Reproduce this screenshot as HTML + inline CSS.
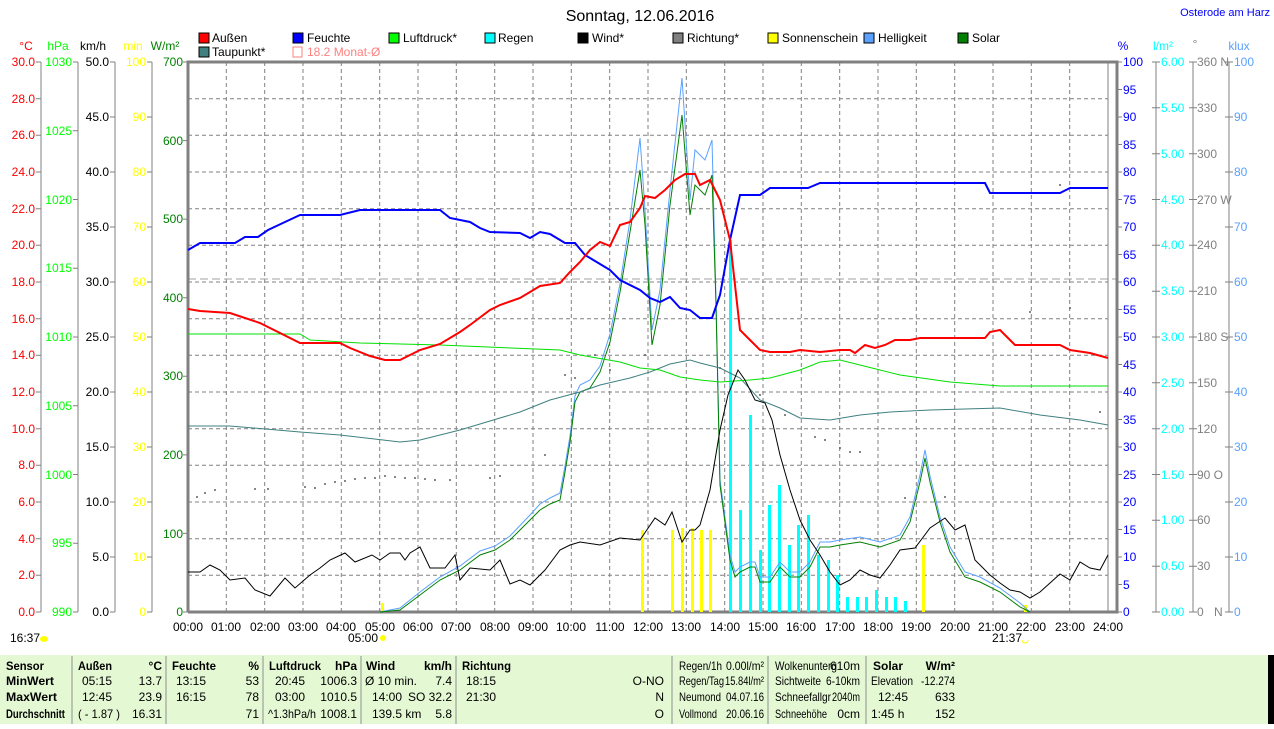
<!DOCTYPE html>
<html><head><meta charset="utf-8"><style>
body{margin:0;background:#fff;width:1274px;height:724px;overflow:hidden;font-family:"Liberation Sans",sans-serif}
svg text{font-family:"Liberation Sans",sans-serif;font-size:12px}
</style></head><body>
<svg width="1274" height="724" xmlns="http://www.w3.org/2000/svg">
<text x="640" y="21" text-anchor="middle" style="font-size:16px">Sonntag, 12.06.2016</text>
<text x="1270" y="16" text-anchor="end" fill="#0000ff" style="font-size:11px">Osterode am Harz</text>
<g style="font-size:11px">
<rect x="199" y="33" width="10" height="10" fill="#f00" stroke="#000"/><text x="212" y="42">Außen</text>
<rect x="293" y="33" width="10" height="10" fill="#00f" stroke="#000"/><text x="307" y="42">Feuchte</text>
<rect x="389" y="33" width="10" height="10" fill="#0f0" stroke="#000"/><text x="403" y="42">Luftdruck*</text>
<rect x="485" y="33" width="10" height="10" fill="#0ff" stroke="#000"/><text x="498" y="42">Regen</text>
<rect x="578" y="33" width="10" height="10" fill="#000" stroke="#000"/><text x="592" y="42">Wind*</text>
<rect x="673" y="33" width="10" height="10" fill="#808080" stroke="#000"/><text x="687" y="42">Richtung*</text>
<rect x="768" y="33" width="10" height="10" fill="#ff0" stroke="#000"/><text x="782" y="42" textLength="76" lengthAdjust="spacingAndGlyphs">Sonnenschein</text>
<rect x="864" y="33" width="10" height="10" fill="#5aa0ff" stroke="#000"/><text x="878" y="42">Helligkeit</text>
<rect x="958" y="33" width="10" height="10" fill="#008000" stroke="#000"/><text x="972" y="42">Solar</text>
<rect x="199" y="47" width="10" height="10" fill="#408080" stroke="#000"/><text x="212" y="56">Taupunkt*</text>
<rect x="293" y="47" width="9" height="10" fill="none" stroke="#ff8080"/><text x="307" y="56" fill="#ff8080">18.2 Monat-Ø</text>
</g>
<g style="font-size:11px">
<text x="26" y="50" text-anchor="middle" fill="#f00">°C</text>
<text x="58" y="50" text-anchor="middle" fill="#0f0">hPa</text>
<text x="93" y="50" text-anchor="middle">km/h</text>
<text x="133" y="50" text-anchor="middle" fill="#ff0">min</text>
<text x="165" y="50" text-anchor="middle" fill="#008000">W/m²</text>
<text x="1123" y="50" text-anchor="middle" fill="#00f">%</text>
<text x="1163" y="50" text-anchor="middle" fill="#0ff">l/m²</text>
<text x="1195" y="48" text-anchor="middle" fill="#808080">°</text>
<text x="1239" y="50" text-anchor="middle" fill="#5aa0ff">klux</text>
</g>
<g stroke="#808080" stroke-dasharray="4,3" stroke-width="1">
<path d="M188 98.7H1108M188 135.3H1108M188 172H1108M188 208.7H1108M188 245.3H1108M188 282H1108M188 318.7H1108M188 355.3H1108M188 392H1108M188 428.7H1108M188 465.3H1108M188 502H1108M188 538.7H1108M188 575.3H1108"/>
<path d="M226.3 62V612M264.7 62V612M303 62V612M341.3 62V612M379.7 62V612M418 62V612M456.3 62V612M494.7 62V612M533 62V612M571.3 62V612M609.7 62V612M648 62V612M686.3 62V612M724.7 62V612M763 62V612M801.3 62V612M839.7 62V612M878 62V612M916.3 62V612M954.7 62V612M993 62V612M1031.3 62V612M1069.7 62V612"/>
</g>
<line x1="188" y1="279" x2="1117" y2="279" stroke="#a0a0a0" stroke-dasharray="8,4"/>
<g stroke="#808080" fill="none">
<path d="M41 62V612M78 62V612M115 62V612M152 62V612"/>
<path d="M1156 62V612M1193 62V612M1229 62V612"/>
<path d="M1108 62V612"/>
</g>
<path d="M188 612V62H1117V612H188" stroke="#808080" stroke-width="3" fill="none"/>
<g text-anchor="end" fill="#f00">
<text x="35" y="66">30.0</text><text x="35" y="103">28.0</text><text x="35" y="139">26.0</text><text x="35" y="176">24.0</text><text x="35" y="213">22.0</text><text x="35" y="249">20.0</text><text x="35" y="286">18.0</text><text x="35" y="323">16.0</text><text x="35" y="359">14.0</text><text x="35" y="396">12.0</text><text x="35" y="433">10.0</text><text x="35" y="469">8.0</text><text x="35" y="506">6.0</text><text x="35" y="543">4.0</text><text x="35" y="579">2.0</text><text x="35" y="616">0.0</text>
</g>
<g stroke="#808080"><path d="M36 62h5M36 98.7h5M36 135.3h5M36 172h5M36 208.7h5M36 245.3h5M36 282h5M36 318.7h5M36 355.3h5M36 392h5M36 428.7h5M36 465.3h5M36 502h5M36 538.7h5M36 575.3h5M36 612h5"/>
<path d="M73 62h5M73 130.75h5M73 199.5h5M73 268.25h5M73 337h5M73 405.75h5M73 474.5h5M73 543.25h5M73 612h5"/>
<path d="M110 62h5M110 117h5M110 172h5M110 227h5M110 282h5M110 337h5M110 392h5M110 447h5M110 502h5M110 557h5M110 612h5"/>
<path d="M147 62h5M147 117h5M147 172h5M147 227h5M147 282h5M147 337h5M147 392h5M147 447h5M147 502h5M147 557h5M147 612h5"/>
<path d="M183 62h5M183 140.6h5M183 219.1h5M183 297.7h5M183 376.3h5M183 454.9h5M183 533.4h5M183 612h5"/>
</g>
<g text-anchor="end" fill="#0f0">
<text x="72" y="66">1030</text><text x="72" y="135">1025</text><text x="72" y="204">1020</text><text x="72" y="272">1015</text><text x="72" y="341">1010</text><text x="72" y="410">1005</text><text x="72" y="479">1000</text><text x="72" y="547">995</text><text x="72" y="616">990</text>
</g>
<g text-anchor="end">
<text x="109" y="66">50.0</text><text x="109" y="121">45.0</text><text x="109" y="176">40.0</text><text x="109" y="231">35.0</text><text x="109" y="286">30.0</text><text x="109" y="341">25.0</text><text x="109" y="396">20.0</text><text x="109" y="451">15.0</text><text x="109" y="506">10.0</text><text x="109" y="561">5.0</text><text x="109" y="616">0.0</text>
</g>
<g text-anchor="end" fill="#ff0">
<text x="146" y="66">100</text><text x="146" y="121">90</text><text x="146" y="176">80</text><text x="146" y="231">70</text><text x="146" y="286">60</text><text x="146" y="341">50</text><text x="146" y="396">40</text><text x="146" y="451">30</text><text x="146" y="506">20</text><text x="146" y="561">10</text><text x="146" y="616">0</text>
</g>
<g text-anchor="end" fill="#008000">
<text x="183" y="66">700</text><text x="183" y="145">600</text><text x="183" y="223">500</text><text x="183" y="302">400</text><text x="183" y="380">300</text><text x="183" y="459">200</text><text x="183" y="538">100</text><text x="183" y="616">0</text>
</g>
<g stroke="#808080"><path d="M1117 62h5M1117 89.5h5M1117 117h5M1117 144.5h5M1117 172h5M1117 199.5h5M1117 227h5M1117 254.5h5M1117 282h5M1117 309.5h5M1117 337h5M1117 364.5h5M1117 392h5M1117 419.5h5M1117 447h5M1117 474.5h5M1117 502h5M1117 529.5h5M1117 557h5M1117 584.5h5M1117 612h5"/>
<path d="M1152 62h8M1152 107.8h8M1152 153.7h8M1152 199.5h8M1152 245.3h8M1152 291.2h8M1152 337h8M1152 382.8h8M1152 428.7h8M1152 474.5h8M1152 520.3h8M1152 566.2h8M1152 612h8"/>
<path d="M1189 62h8M1189 107.8h8M1189 153.7h8M1189 199.5h8M1189 245.3h8M1189 291.2h8M1189 337h8M1189 382.8h8M1189 428.7h8M1189 474.5h8M1189 520.3h8M1189 566.2h8M1189 612h8"/>
<path d="M1225 62h8M1225 117h8M1225 172h8M1225 227h8M1225 282h8M1225 337h8M1225 392h8M1225 447h8M1225 502h8M1225 557h8M1225 612h8"/>
</g>
<g fill="#00f">
<text x="1123" y="66">100</text><text x="1123" y="94">95</text><text x="1123" y="121">90</text><text x="1123" y="149">85</text><text x="1123" y="176">80</text><text x="1123" y="204">75</text><text x="1123" y="231">70</text><text x="1123" y="259">65</text><text x="1123" y="286">60</text><text x="1123" y="314">55</text><text x="1123" y="341">50</text><text x="1123" y="369">45</text><text x="1123" y="396">40</text><text x="1123" y="424">35</text><text x="1123" y="451">30</text><text x="1123" y="479">25</text><text x="1123" y="506">20</text><text x="1123" y="534">15</text><text x="1123" y="561">10</text><text x="1123" y="589">5</text><text x="1123" y="616">0</text>
</g>
<g fill="#0ff">
<text x="1161" y="66">6.00</text><text x="1161" y="112">5.50</text><text x="1161" y="158">5.00</text><text x="1161" y="204">4.50</text><text x="1161" y="249">4.00</text><text x="1161" y="295">3.50</text><text x="1161" y="341">3.00</text><text x="1161" y="387">2.50</text><text x="1161" y="433">2.00</text><text x="1161" y="479">1.50</text><text x="1161" y="524">1.00</text><text x="1161" y="570">0.50</text><text x="1161" y="616">0.00</text>
</g>
<g fill="#808080">
<text x="1197" y="66">360 N</text><text x="1197" y="112">330</text><text x="1197" y="158">300</text><text x="1197" y="204">270 W</text><text x="1197" y="249">240</text><text x="1197" y="295">210</text><text x="1197" y="341">180 S</text><text x="1197" y="387">150</text><text x="1197" y="433">120</text><text x="1197" y="479">90 O</text><text x="1197" y="524">60</text><text x="1197" y="570">30</text><text x="1197" y="616">0</text><text x="1214" y="616">N</text>
</g>
<g fill="#5aa0ff">
<text x="1234" y="66">100</text><text x="1234" y="121">90</text><text x="1234" y="176">80</text><text x="1234" y="231">70</text><text x="1234" y="286">60</text><text x="1234" y="341">50</text><text x="1234" y="396">40</text><text x="1234" y="451">30</text><text x="1234" y="506">20</text><text x="1234" y="561">10</text><text x="1234" y="616">0</text>
</g>
<g text-anchor="middle">
<text x="188" y="631">00:00</text><text x="226" y="631">01:00</text><text x="265" y="631">02:00</text><text x="303" y="631">03:00</text><text x="341" y="631">04:00</text><text x="380" y="631">05:00</text><text x="418" y="631">06:00</text><text x="456" y="631">07:00</text><text x="495" y="631">08:00</text><text x="533" y="631">09:00</text><text x="571" y="631">10:00</text><text x="610" y="631">11:00</text><text x="648" y="631">12:00</text><text x="686" y="631">13:00</text><text x="725" y="631">14:00</text><text x="763" y="631">15:00</text><text x="801" y="631">16:00</text><text x="840" y="631">17:00</text><text x="878" y="631">18:00</text><text x="916" y="631">19:00</text><text x="955" y="631">20:00</text><text x="993" y="631">21:00</text><text x="1031" y="631">22:00</text><text x="1070" y="631">23:00</text><text x="1108" y="631">24:00</text>
</g>
<text x="10" y="642">16:37</text><ellipse cx="44" cy="639" rx="4" ry="3" fill="#ff0"/>
<text x="348" y="642">05:00</text><circle cx="383" cy="638" r="3" fill="#ff0"/>
<text x="992" y="642">21:37</text><path d="M1022 640a3 3 0 0 0 6 0" fill="none" stroke="#ff0"/>
<g fill="#0ff">
<rect x="729" y="240" width="3" height="372"/><rect x="739" y="510" width="3" height="102"/><rect x="749" y="415" width="3" height="197"/><rect x="759" y="550" width="3" height="62"/><rect x="768" y="505" width="3" height="107"/><rect x="778" y="485" width="3" height="127"/><rect x="788" y="545" width="3" height="67"/><rect x="797" y="525" width="3" height="87"/><rect x="807" y="515" width="3" height="97"/><rect x="817" y="555" width="3" height="57"/><rect x="827" y="560" width="3" height="52"/><rect x="836" y="575" width="3" height="37"/><rect x="846" y="597" width="3" height="15"/><rect x="856" y="597" width="3" height="15"/><rect x="865" y="597" width="3" height="15"/><rect x="875" y="590" width="3" height="22"/><rect x="885" y="597" width="3" height="15"/><rect x="894" y="597" width="3" height="15"/><rect x="904" y="601" width="3" height="11"/>
</g>
<g fill="#ff0">
<rect x="641" y="530" width="3" height="82"/><rect x="671" y="530" width="3" height="82"/><rect x="681" y="528" width="3" height="84"/><rect x="691" y="528" width="3" height="84"/><rect x="700" y="530" width="3" height="82"/><rect x="709" y="530" width="3" height="82"/><rect x="922" y="545" width="3" height="67"/><rect x="381" y="603" width="3" height="9"/><rect x="1024" y="605" width="3" height="7"/>
</g>
<g fill="#606060">
<circle cx="197" cy="497" r="1"/><circle cx="205" cy="493" r="1"/><circle cx="215" cy="490" r="1"/><circle cx="255" cy="489" r="1"/><circle cx="268" cy="489" r="1"/><circle cx="305" cy="487" r="1"/><circle cx="315" cy="488" r="1"/><circle cx="325" cy="484" r="1"/><circle cx="335" cy="482" r="1"/><circle cx="345" cy="481" r="1"/><circle cx="355" cy="479" r="1"/><circle cx="365" cy="478" r="1"/><circle cx="375" cy="478" r="1"/><circle cx="385" cy="476" r="1"/><circle cx="395" cy="477" r="1"/><circle cx="405" cy="478" r="1"/><circle cx="415" cy="478" r="1"/><circle cx="425" cy="479" r="1"/><circle cx="435" cy="480" r="1"/><circle cx="450" cy="480" r="1"/><circle cx="490" cy="478" r="1"/><circle cx="500" cy="476" r="1"/><circle cx="545" cy="455" r="1"/><circle cx="565" cy="375" r="1"/><circle cx="575" cy="378" r="1"/><circle cx="595" cy="355" r="1"/><circle cx="610" cy="370" r="1"/><circle cx="645" cy="355" r="1"/><circle cx="720" cy="368" r="1"/><circle cx="760" cy="395" r="1"/><circle cx="785" cy="415" r="1"/><circle cx="815" cy="437" r="1"/><circle cx="825" cy="440" r="1"/><circle cx="840" cy="448" r="1"/><circle cx="850" cy="452" r="1"/><circle cx="860" cy="452" r="1"/><circle cx="905" cy="498" r="1"/><circle cx="945" cy="497" r="1"/><circle cx="1030" cy="312" r="1"/><circle cx="1060" cy="185" r="1"/><circle cx="1070" cy="308" r="1"/><circle cx="1100" cy="412" r="1"/>
</g>
<polyline fill="none" stroke="#5aa0ff" stroke-width="1" points="380,612 400,608 420,592 440,577 460,566 480,551 495,546 510,536 530,515 540,504 550,498 560,493 565,466 570,436 575,396 580,385 590,380 600,366 610,334 620,284 630,220 640,138 645,210 652,330 660,290 670,190 682,78 690,200 695,150 705,160 712,140 716,300 720,480 730,555 735,572 740,567 750,562 755,562 760,577 770,577 780,562 790,572 800,572 810,562 820,542 830,542 840,540 860,537 880,542 900,535 910,517 920,475 925,450 930,476 940,517 950,547 965,572 980,577 1000,588 1020,603 1030,612"/>
<polyline fill="none" stroke="#008000" stroke-width="1" points="380,612 400,610 420,595 440,580 460,570 480,555 495,550 510,540 530,520 540,510 550,504 560,500 565,472 570,442 575,402 580,392 590,388 600,372 610,342 620,292 630,232 640,170 645,225 652,345 660,305 670,205 682,115 690,215 695,185 705,195 712,175 716,305 720,485 730,560 735,577 740,572 750,567 755,567 760,582 770,582 780,567 790,577 800,577 810,567 820,547 830,547 840,545 860,542 880,547 900,540 910,522 920,482 925,458 930,482 940,522 950,552 965,577 980,582 1000,592 1020,607 1030,612"/>
<polyline fill="none" stroke="#408080" points="188,426 230,426 300,432 340,435 400,442 420,440 460,430 480,424 520,412 550,400 580,392 600,385 630,378 650,372 670,364 690,360 700,363 720,368 740,378 760,400 780,408 800,418 830,420 860,415 890,412 930,410 1000,408 1040,415 1080,420 1108,425"/>
<polyline fill="none" stroke="#00e000" points="188,334 300,334 310,340 360,343 440,345 560,350 580,355 620,362 640,368 660,370 680,377 700,380 720,382 750,380 770,378 800,370 820,362 840,360 860,365 900,375 950,382 1000,386 1108,386"/>
<polyline fill="none" stroke="#000" points="188,572 200,572 210,565 220,570 230,580 245,578 255,590 270,596 285,578 295,588 310,575 320,568 330,560 345,553 355,562 360,560 372,555 380,560 390,553 400,553 405,560 410,553 420,547 430,568 445,568 455,555 460,580 470,568 490,570 500,560 510,584 520,580 530,585 545,570 560,550 570,545 580,542 600,545 620,538 640,540 655,518 665,525 672,512 682,542 690,530 695,530 700,525 710,490 720,430 728,395 738,370 745,380 755,400 765,403 772,420 780,455 790,490 800,520 810,540 820,555 830,572 840,585 850,580 860,570 870,575 880,578 890,565 900,550 915,548 930,528 945,518 955,530 965,525 975,560 990,575 1000,583 1010,590 1020,592 1030,598 1040,592 1050,583 1060,574 1070,580 1080,562 1090,568 1100,570 1108,555"/>
<polyline fill="none" stroke="#0000ff" stroke-width="2" points="188,250 200,243 235,243 245,237 258,237 268,230 285,222 300,215 340,215 360,210 440,210 450,218 470,222 480,228 490,232 520,233 530,238 540,232 550,234 565,243 575,243 585,255 600,264 610,270 620,280 640,290 650,298 660,302 670,297 680,308 690,310 700,318 712,318 720,295 730,240 740,195 760,195 770,188 808,188 820,183 985,183 990,193 1060,193 1070,188 1108,188"/>
<polyline fill="none" stroke="#ff0000" stroke-width="2" points="188,309 200,311 230,313 260,323 290,338 300,343 340,343 350,348 370,356 385,360 400,360 420,350 440,344 460,332 470,325 490,310 500,305 520,298 530,292 540,286 560,283 570,272 580,262 590,250 600,242 610,246 620,225 630,222 640,208 645,196 655,198 665,190 675,180 685,174 695,174 700,185 710,180 720,200 730,240 740,330 750,340 760,350 770,352 790,352 800,350 820,352 840,350 850,350 855,353 865,345 875,348 885,345 895,340 910,340 920,338 985,338 990,332 1000,330 1005,335 1015,345 1060,345 1070,350 1090,353 1108,358"/>
<rect x="0" y="655" width="1274" height="69" fill="#e4f8d4"/>
<rect x="1268" y="655" width="6" height="69" fill="#000"/>
<g stroke="#909090"><path d="M72 656V724M166 656V724M263 656V724M361 656V724M456 656V724M672 656V724M768 656V724M866 656V724"/></g>
<g style="font-size:11px">
<g font-weight="bold"><text x="6" y="670" textLength="38" lengthAdjust="spacingAndGlyphs">Sensor</text><text x="6" y="685" textLength="48" lengthAdjust="spacingAndGlyphs">MinWert</text><text x="6" y="701" textLength="51" lengthAdjust="spacingAndGlyphs">MaxWert</text><text x="6" y="718" textLength="59" lengthAdjust="spacingAndGlyphs">Durchschnitt</text>
<text x="78" y="670" textLength="34" lengthAdjust="spacingAndGlyphs">Außen</text><text x="162" y="670" text-anchor="end">°C</text>
<text x="172" y="670" textLength="44" lengthAdjust="spacingAndGlyphs">Feuchte</text><text x="259" y="670" text-anchor="end">%</text>
<text x="269" y="670" textLength="52" lengthAdjust="spacingAndGlyphs">Luftdruck</text><text x="357" y="670" text-anchor="end">hPa</text>
<text x="366" y="670">Wind</text><text x="452" y="670" text-anchor="end">km/h</text>
<text x="462" y="670" textLength="49" lengthAdjust="spacingAndGlyphs">Richtung</text>
<text x="873" y="670">Solar</text><text x="955" y="670" text-anchor="end">W/m²</text></g>
<text x="82" y="685">05:15</text><text x="162" y="685" text-anchor="end">13.7</text>
<text x="82" y="701">12:45</text><text x="162" y="701" text-anchor="end">23.9</text>
<text x="78" y="718" textLength="42" lengthAdjust="spacingAndGlyphs">( - 1.87 )</text><text x="162" y="718" text-anchor="end">16.31</text>
<text x="176" y="685">13:15</text><text x="259" y="685" text-anchor="end">53</text>
<text x="176" y="701">16:15</text><text x="259" y="701" text-anchor="end">78</text>
<text x="259" y="718" text-anchor="end">71</text>
<text x="275" y="685">20:45</text><text x="357" y="685" text-anchor="end">1006.3</text>
<text x="275" y="701">03:00</text><text x="357" y="701" text-anchor="end">1010.5</text>
<text x="268" y="718" textLength="48" lengthAdjust="spacingAndGlyphs">^1.3hPa/h</text><text x="357" y="718" text-anchor="end">1008.1</text>
<text x="365" y="685">Ø 10 min.</text><text x="452" y="685" text-anchor="end">7.4</text>
<text x="372" y="701">14:00</text><text x="452" y="701" text-anchor="end">SO 32.2</text>
<text x="372" y="718">139.5 km</text><text x="452" y="718" text-anchor="end">5.8</text>
<text x="466" y="685">18:15</text><text x="466" y="701">21:30</text>
<text x="664" y="685" text-anchor="end">O-NO</text><text x="664" y="701" text-anchor="end">N</text><text x="664" y="718" text-anchor="end">O</text>
<text x="679" y="670" textLength="43" lengthAdjust="spacingAndGlyphs">Regen/1h</text><text x="764" y="670" text-anchor="end" textLength="38" lengthAdjust="spacingAndGlyphs">0.00l/m²</text>
<text x="679" y="685" textLength="45" lengthAdjust="spacingAndGlyphs">Regen/Tag</text><text x="764" y="685" text-anchor="end" textLength="39" lengthAdjust="spacingAndGlyphs">15.84l/m²</text>
<text x="679" y="701" textLength="42" lengthAdjust="spacingAndGlyphs">Neumond</text><text x="764" y="701" text-anchor="end" textLength="38" lengthAdjust="spacingAndGlyphs">04.07.16</text>
<text x="679" y="718" textLength="38" lengthAdjust="spacingAndGlyphs">Vollmond</text><text x="764" y="718" text-anchor="end" textLength="38" lengthAdjust="spacingAndGlyphs">20.06.16</text>
<text x="775" y="670" textLength="62" lengthAdjust="spacingAndGlyphs">Wolkenunterg</text><text x="860" y="670" text-anchor="end">610m</text>
<text x="775" y="685" textLength="46" lengthAdjust="spacingAndGlyphs">Sichtweite</text><text x="860" y="685" text-anchor="end" textLength="34" lengthAdjust="spacingAndGlyphs">6-10km</text>
<text x="775" y="701" textLength="56" lengthAdjust="spacingAndGlyphs">Schneefallgr</text><text x="860" y="701" text-anchor="end" textLength="28" lengthAdjust="spacingAndGlyphs">2040m</text>
<text x="775" y="718" textLength="52" lengthAdjust="spacingAndGlyphs">Schneehöhe</text><text x="860" y="718" text-anchor="end">0cm</text>
<text x="871" y="685" textLength="42" lengthAdjust="spacingAndGlyphs">Elevation</text><text x="955" y="685" text-anchor="end" textLength="34" lengthAdjust="spacingAndGlyphs">-12.274</text>
<text x="878" y="701">12:45</text><text x="955" y="701" text-anchor="end">633</text>
<text x="871" y="718">1:45 h</text><text x="955" y="718" text-anchor="end">152</text>
</g>
</svg>
</body></html>
